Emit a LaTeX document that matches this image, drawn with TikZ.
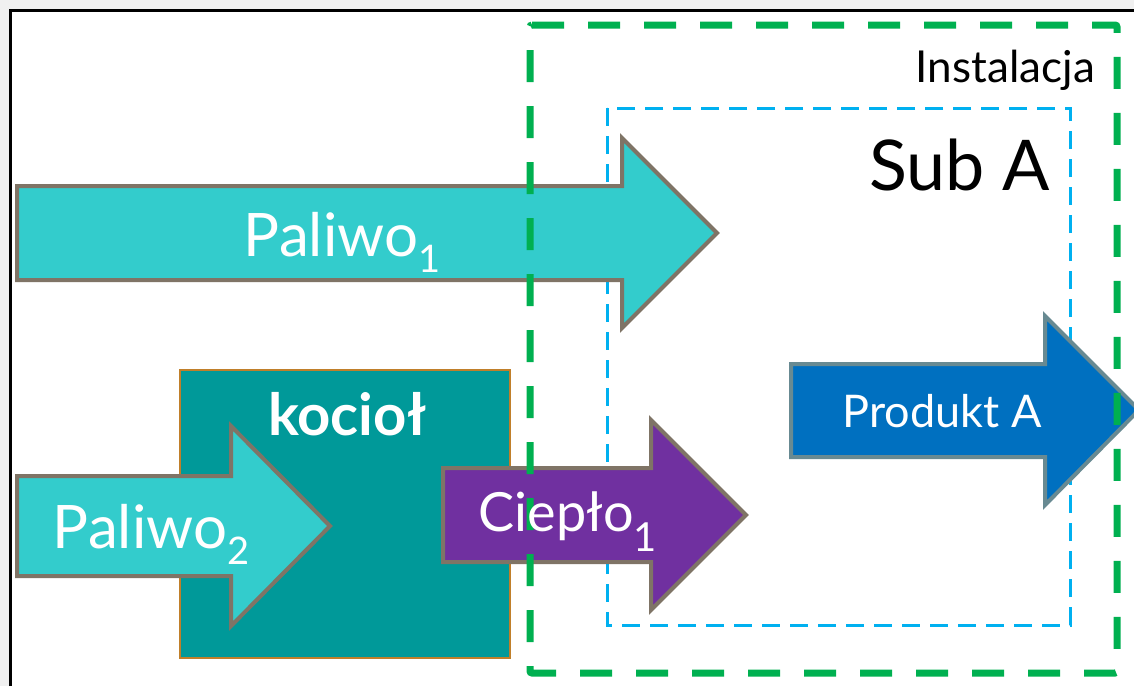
\documentclass[tikz,border=0pt]{standalone}
\usepackage{fontspec}
\setmainfont{Lato}

\definecolor{paliwo}{HTML}{33CCCC}
\definecolor{kociol}{HTML}{009999}
\definecolor{cieplo}{HTML}{7030A0}
\definecolor{produkt}{HTML}{0070C0}
\definecolor{instal}{HTML}{00B050}
\definecolor{suba}{HTML}{00B0F0}
\definecolor{rim}{HTML}{7F7466}
\definecolor{rimblue}{HTML}{688A92}
\definecolor{rimorange}{HTML}{C07F2A}

\newcommand{\idx}[3]{\raisebox{-#1pt}{\fontsize{#2}{#2}\selectfont #3}}

\begin{document}
\begin{tikzpicture}[x=1pt, y=-1pt, every node/.style={inner sep=0pt, anchor=base},
  flow/.style={draw=rim, line width=4pt},
  big/.style={font=\fontsize{60}{70}\selectfont, text=white}]
\useasboundingbox (0,0) rectangle (1134,686);
\fill[black!6] (0,0) rectangle (1134,686);
\fill[white] (10,10) rectangle (1134,686);
\draw[line width=3pt] (10,686) -- (10,10) -- (1134,10);

% Sub A
\draw[suba, line width=3pt, dash pattern=on 18pt off 10pt] (607,108) rectangle (1070,625);

% kociol
\draw[rimorange, fill=kociol, line width=2pt] (180,370) rectangle (510,658);

% arrows
\draw[flow, fill=paliwo] (17,476) -- (231,476) -- (231,426) -- (330,526) -- (231,626) -- (231,576) -- (17,576) -- cycle;
\draw[flow, fill=paliwo] (17,186) -- (622,186) -- (622,138) -- (717,233) -- (622,328) -- (622,280) -- (17,280) -- cycle;
\draw[flow, fill=cieplo] (443,468) -- (651,468) -- (651,420) -- (746,515) -- (651,610) -- (651,562) -- (443,562) -- cycle;
\draw[flow, draw=rimblue, fill=produkt] (791,364) -- (1045,364) -- (1045,316) -- (1139,410) -- (1045,505) -- (1045,457) -- (791,457) -- cycle;

% Instalacja
\draw[instal, line width=7pt, rounded corners=2pt, dash pattern=on 32pt off 24pt] (530,25) -- (1117,25) -- (1117,673) -- (530,673) -- cycle;

\node[big] (paliwo1) at (342,256) {Paliwo\idx{16}{38}{1}};
\node[big] (paliwo2) at (151,548) {Paliwo\idx{16}{38}{2}};
\node[big, font=\fontsize{54}{64}\selectfont] (cieplo1) at (568,531) {Ciepło\idx{20}{40}{1}};
\node[text=white, font=\fontsize{58}{66}\selectfont\bfseries] (kociol) at (347,435) {kocioł};
\node[text=white, font=\fontsize{45}{54}\selectfont] (produktA) at (942,427) {Produkt A};
\node[anchor=base east, font=\fontsize{44}{52}\selectfont] (instalacja) at (1095,82) {Instalacja};
\node[anchor=base east, font=\fontsize{70}{80}\selectfont] (subA) at (1050,190) {Sub A};
\end{tikzpicture}
\end{document}
